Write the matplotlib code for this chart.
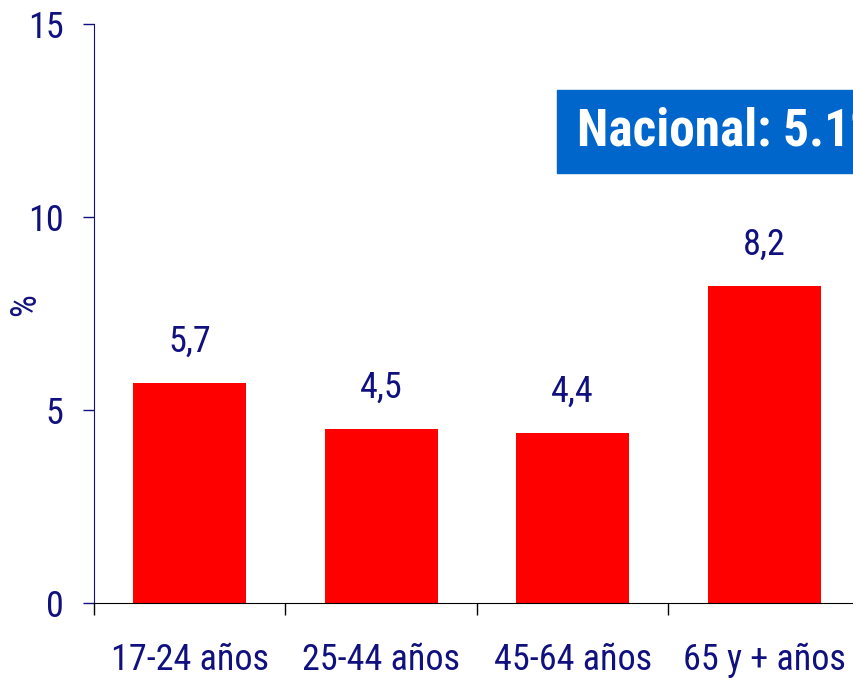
import numpy as np
import matplotlib
matplotlib.use("Agg")
import matplotlib.pyplot as plt
from matplotlib.patches import Rectangle

# Prevalence by age group (%)
GROUPS = ["17-24 años", "25-44 años", "45-64 años", "65 y + años"]
VALUES = [5.7, 4.5, 4.4, 8.2]
NACIONAL = "Nacional: 5.1%"

NAVY = "#10107f"
RED = "#ff0000"
BOX = "#0066cc"

plt.rcParams["font.family"] = ["Roboto Condensed", "DejaVu Sans"]

fig = plt.figure(figsize=(8.54, 6.80), dpi=100)
ax = fig.add_axes([0.110, 0.1132, 0.897, 0.8515])

x = np.arange(len(GROUPS))
ax.bar(x, VALUES, width=0.59, color=RED, zorder=2)

for xi, v in zip(x, VALUES):
    ax.annotate(f"{v:.1f}".replace(".", ","), (xi, v), xytext=(0, 17),
                textcoords="offset points", ha="center", va="bottom",
                fontsize=26, color=NAVY)

ax.set_xlim(-0.5, len(GROUPS) - 0.5)
ax.set_ylim(0, 15)
ax.set_yticks([0, 5, 10, 15])
ax.tick_params(axis="y", colors=NAVY, labelsize=26, length=8, width=1, pad=14)
ax.set_ylabel("%", fontsize=26, color=NAVY)
ax.yaxis.set_label_coords(-0.066, 0.515)

# boundaries get tick marks, centres get the labels
ax.set_xticks(np.arange(len(GROUPS) + 1) - 0.5)
ax.set_xticklabels([])
ax.set_xticks(x, minor=True)
ax.set_xticklabels(GROUPS, minor=True)
ax.tick_params(axis="x", which="major", length=8.5, width=1, colors="black")
ax.tick_params(axis="x", which="minor", length=0, labelsize=26,
               labelcolor=NAVY, pad=28)

for s in ["top", "right"]:
    ax.spines[s].set_visible(False)
ax.spines["left"].set_color(NAVY)
ax.spines["bottom"].set_color("black")
ax.spines["bottom"].set_zorder(3)

# national reference box, runs off the right edge
fig.patches.append(Rectangle((557 / 854, 1 - 173 / 680), 0.5, 83 / 680,
                             transform=fig.transFigure, color=BOX))
fig.text(577 / 854, 1 - 132 / 680, NACIONAL, color="white", fontsize=37,
         fontweight="bold", ha="left", va="center")

fig.savefig("out.png", dpi=100)
